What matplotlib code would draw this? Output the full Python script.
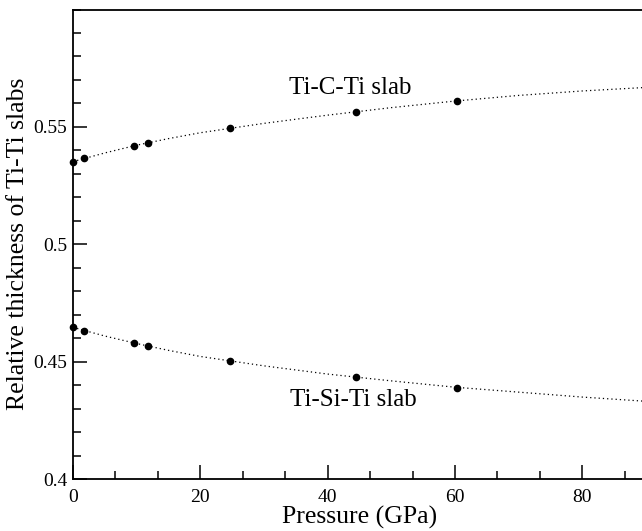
import matplotlib
matplotlib.use("Agg")
import matplotlib.pyplot as plt
from matplotlib.ticker import MultipleLocator, FuncFormatter

# calculated slab thicknesses at each pressure (GPa)
pressure = [0.0, 1.7, 9.6, 11.8, 24.7, 44.4, 60.3]
ti_c_ti = [0.5352, 0.5367, 0.5420, 0.5432, 0.5496, 0.5565, 0.5611]
ti_si_ti = [0.4646, 0.4631, 0.4578, 0.4567, 0.4503, 0.4433, 0.4389]

# fitted curves through the points, extended to high pressure
fit_pressure = [0, 5, 10, 15, 20, 30, 40, 50, 60, 70, 80, 90]
fit_ti_c_ti = [0.5352, 0.5389, 0.5422, 0.5450, 0.5475, 0.5515, 0.5550,
               0.5582, 0.5610, 0.5634, 0.5653, 0.5668]
fit_ti_si_ti = [0.4646, 0.4609, 0.4577, 0.4548, 0.4522, 0.4482, 0.4447,
                0.4418, 0.4391, 0.4370, 0.4349, 0.4331]

plt.rcParams["font.family"] = ["Liberation Serif", "DejaVu Serif"]

fig = plt.figure(figsize=(6.42, 5.31), dpi=100)
ax = fig.add_axes([73 / 642, 1 - 479 / 531, 573 / 642, 469.5 / 531])

dots = (0, (1, 2.4))
ax.plot(fit_pressure, fit_ti_c_ti, color="black", lw=0.9, linestyle=dots)
ax.plot(fit_pressure, fit_ti_si_ti, color="black", lw=0.9, linestyle=dots)
ax.plot(pressure, ti_c_ti, "o", color="black", ms=4.5, clip_on=False)
ax.plot(pressure, ti_si_ti, "o", color="black", ms=4.5, clip_on=False)

ax.text(43.6, 0.5666, "Ti-C-Ti slab", fontsize=18, ha="center", va="center")
ax.text(44.0, 0.4337, "Ti-Si-Ti slab", fontsize=18, ha="center", va="center")

ax.set_xlim(0, 90)
ax.set_ylim(0.4, 0.6)
ax.set_xticks([0, 20, 40, 60, 80])
ax.set_yticks([0.4, 0.45, 0.5, 0.55])
ax.xaxis.set_minor_locator(MultipleLocator(20 / 3))
ax.yaxis.set_minor_locator(MultipleLocator(0.01))
ax.yaxis.set_major_formatter(FuncFormatter(lambda v, pos: f"{v:g}"))

ax.tick_params(which="both", direction="in", width=1.1, labelsize=14)
ax.tick_params(which="major", length=10)
ax.tick_params(which="minor", length=5.5)
ax.tick_params(axis="x", pad=7)
ax.tick_params(axis="y", pad=4)
for side in ax.spines.values():
    side.set_linewidth(1.3)
ax.spines["right"].set_visible(False)

ax.set_xlabel("Pressure (GPa)", fontsize=18.5, labelpad=0)
ax.set_ylabel("Relative thickness of Ti-Ti slabs", fontsize=18.5, labelpad=3)

fig.savefig("out.png", dpi=100)
